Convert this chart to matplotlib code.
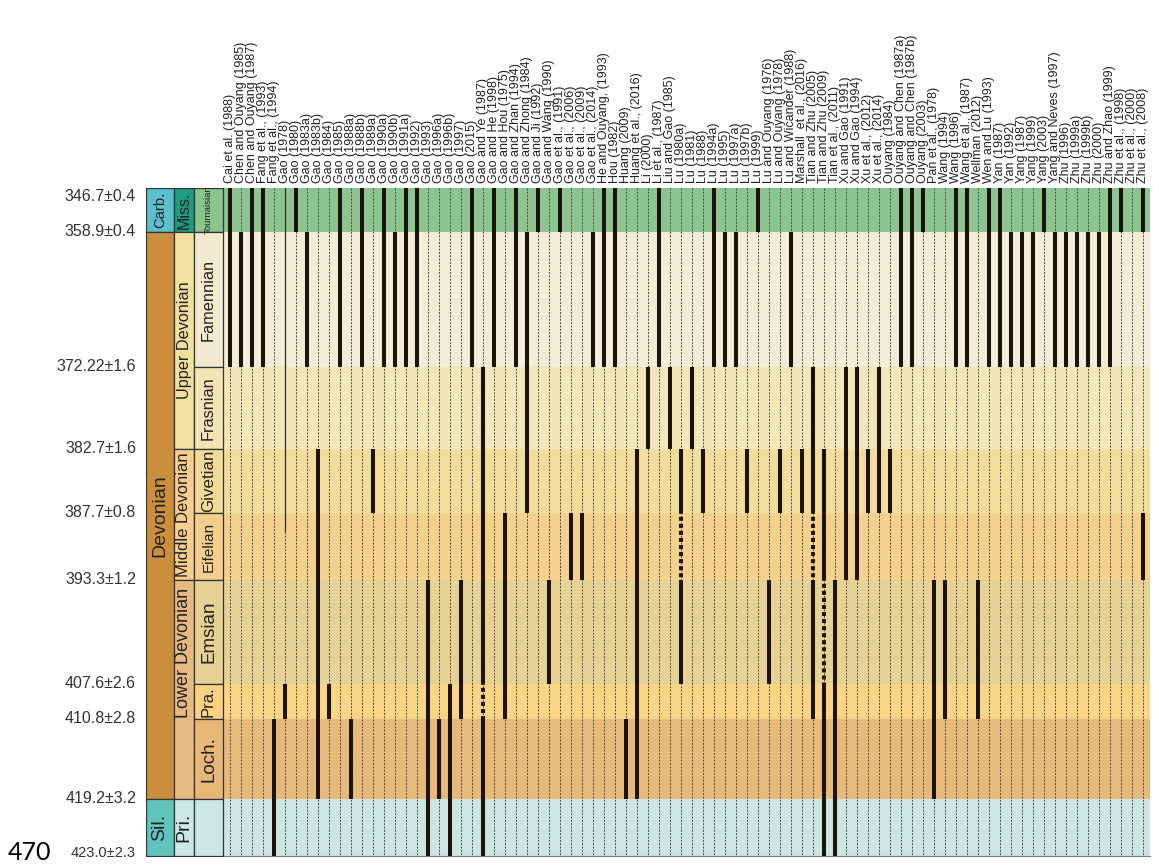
import numpy as np
import matplotlib
matplotlib.use("Agg")
import matplotlib.pyplot as plt

plt.rcParams["font.family"] = ["Liberation Sans", "DejaVu Sans"]

# ──────────────────────────────────────────────────────────
# 데이터
# ──────────────────────────────────────────────────────────

REFS = [
    "Cai et al. (1988)", "Chen and Ouyang (1985)", "Chen and Ouyang (1987)",
    "Fang et al., (1993)", "Fang et al., (1994)", "Gao (1978)", "Gao (1980)",
    "Gao (1983a)", "Gao (1983b)", "Gao (1984)", "Gao (1985)", "Gao (1988a)",
    "Gao (1988b)", "Gao (1989a)", "Gao (1990a)", "Gao (1990b)", "Gao (1991a)",
    "Gao (1992)", "Gao (1993)", "Gao (1996a)", "Gao (1996b)", "Gao (1997)",
    "Gao (2015)", "Gao and Ye (1987)", "Gao and He (1998)", "Gao and Hou (1975)",
    "Gao and Zhan (1994)", "Gao and Zhong (1984)", "Gao and Ji (1992)",
    "Gao and Wang (1990)", "Gao et al., (1991)", "Gao et al., (2006)",
    "Gao et al., (2009)", "Gao et al., (2014)", "He and Ouyang, (1993)",
    "Hou (1982)", "Huang (2009)", "Huang et al., (2016)", "Li (2000)",
    "Li et al., (1987)", "Liu and Gao (1985)", "Lu (1980a)", "Lu (1981)",
    "Lu (1988)", "Lu (1994a)", "Lu (1995)", "Lu (1997a)", "Lu (1997b)",
    "Lu (1999)", "Lu and Ouyang (1976)", "Lu and Ouyang (1978)",
    "Lu and Wicander (1988)", "Marshall  et al., (2016)", "Tian and Zhu (2005)",
    "Tian and Zhu (2009)", "Tian et al., (2011)", "Xu and Gao (1991)",
    "Xu and Gao (1994)", "Xu et al., (2012)", "Xu et al., (2014)",
    "Ouyang (1984)", "Ouyang and Chen (1987a)", "Ouyang and Chen (1987b)",
    "Ouyang (2003)", "Pan et al., (1978)", "Wang (1994)", "Wang (1996)",
    "Wang et al., (1987)", "Wellman (2012)", "Wen and Lu (1993)", "Yan (1987)",
    "Yan (1992)", "Yang (1987)", "Yang (1999)", "Yang (2003)",
    "Yang and Neves (1997)", "Zhu (1996)", "Zhu (1999a)", "Zhu (1999b)",
    "Zhu (2000)", "Zhu and Zhao (1999)", "Zhu et al., (1998)",
    "Zhu et al., (2000)", "Zhu et al., (2008)",
]

# 경계 연대 (Ma), 위 -> 아래
BOUNDARY_AGES = [346.7, 358.9, 372.22, 382.7, 387.7, 393.3, 407.6, 410.8, 419.2, 423.0]
BOUNDARY_LABELS = ["346.7±0.4", "358.9±0.4", "372.22±1.6", "382.7±1.6", "387.7±0.8",
                   "393.3±1.2", "407.6±2.6", "410.8±2.8", "419.2±3.2", "423.0±2.3"]

STAGES = ["Tournaisian", "Famennian", "Frasnian", "Givetian", "Eifelian",
          "Emsian", "Pra.", "Loch.", ""]

EPOCHS = ["Miss.", "Upper Devonian", "Middle Devonian", "Lower Devonian", "Pri."]
EPOCH_TOP = [346.7, 358.9, 382.7, 393.3, 419.2]
EPOCH_BASE = [358.9, 382.7, 393.3, 419.2, 423.0]

PERIODS = ["Carb.", "Devonian", "Sil."]
PERIOD_TOP = [346.7, 358.9, 419.2]
PERIOD_BASE = [358.9, 419.2, 423.0]

# 문헌별 산출 구간 (열 번호, 상한 Ma, 하한 Ma)
SOLID_RANGES = [
    (0, 346.7, 372.22), (1, 358.9, 372.22), (2, 346.7, 372.22), (3, 346.7, 372.22),
    (4, 410.8, 423.0), (5, 407.6, 410.8), (6, 346.7, 358.9), (7, 358.9, 372.22),
    (8, 382.7, 419.2), (9, 407.6, 410.8), (10, 346.7, 372.22), (11, 410.8, 419.2),
    (12, 346.7, 372.22), (13, 382.7, 387.7), (14, 346.7, 372.22), (15, 358.9, 372.22),
    (16, 346.7, 372.22), (17, 346.7, 372.22), (18, 393.3, 423.0), (19, 410.8, 419.2),
    (20, 407.6, 423.0), (21, 393.3, 410.8), (22, 346.7, 372.22),
    (23, 372.22, 407.6), (23, 410.8, 423.0),
    (24, 346.7, 372.22), (25, 387.7, 410.8), (26, 346.7, 372.22), (27, 358.9, 387.7),
    (28, 346.7, 358.9), (29, 393.3, 407.6), (30, 346.7, 358.9), (31, 387.7, 393.3),
    (32, 387.7, 393.3), (33, 358.9, 372.22), (34, 346.7, 372.22), (35, 346.7, 372.22),
    (36, 410.8, 419.2), (37, 382.7, 419.2), (38, 372.22, 382.7), (39, 346.7, 372.22),
    (40, 372.22, 382.7),
    (41, 382.7, 387.7), (41, 393.3, 407.6),
    (42, 372.22, 382.7), (43, 382.7, 387.7), (44, 346.7, 372.22), (45, 358.9, 372.22),
    (46, 358.9, 372.22), (47, 382.7, 387.7), (48, 346.7, 358.9), (49, 393.3, 407.6),
    (50, 382.7, 387.7), (51, 358.9, 372.22), (52, 382.7, 387.7),
    (53, 372.22, 387.7), (53, 393.3, 410.8),
    (54, 382.7, 393.3), (54, 407.6, 423.0),
    (55, 393.3, 423.0), (56, 372.22, 393.3), (57, 372.22, 393.3), (58, 382.7, 387.7),
    (59, 372.22, 387.7), (60, 382.7, 387.7), (61, 346.7, 372.22), (62, 346.7, 372.22),
    (63, 346.7, 358.9), (64, 393.3, 419.2), (65, 393.3, 410.8), (66, 346.7, 372.22),
    (67, 346.7, 372.22), (68, 393.3, 410.8), (69, 346.7, 372.22), (70, 346.7, 372.22),
    (71, 358.9, 372.22), (72, 358.9, 372.22), (73, 358.9, 372.22), (74, 346.7, 358.9),
    (75, 358.9, 372.22), (76, 358.9, 372.22), (77, 358.9, 372.22), (78, 358.9, 372.22),
    (79, 358.9, 372.22), (80, 346.7, 372.22), (81, 346.7, 358.9),
    (83, 346.7, 358.9), (83, 387.7, 393.3),
]

# 불확실 구간 (점선)
DOTTED_RANGES = [
    (23, 407.6, 410.8), (41, 387.7, 393.3), (53, 387.7, 393.3), (54, 393.3, 407.6),
]

# 가는 실선
THIN_RANGES = [(5, 346.7, 389.3)]

# ──────────────────────────────────────────────────────────
# 스타일 / 레이아웃
# ──────────────────────────────────────────────────────────

W, H = 1159, 866
# 각 경계가 그려지는 세로 위치 (px) - 시간축이 선형이 아님
BOUNDARY_ROWS = [188, 232, 367, 449, 513, 580, 684, 719, 799, 856]

STAGE_BG = ["#8dc590", "#f3ecd6", "#f3e6bb", "#f2dd9c", "#f5d18e",
            "#e6d294", "#fbd586", "#e7ba7b", "#cde6e2"]
STAGE_CELL = ["#8cc48e", "#f2eacf", "#f2e4b3", "#f1db95", "#f4ce8a",
              "#e6d192", "#fad281", "#e6b776", "#cde7e3"]
STAGE_SIZE = [6.8, 11.8, 11.7, 12.2, 11.0, 13.5, 12.0, 13.5, 11]
EPOCH_CELL = ["#1f9b80", "#f2e19e", "#f8cd8d", "#e6b980", "#cbe8e2"]
EPOCH_SIZE = [11.5, 11.7, 12.0, 13.0, 14.0]
PERIOD_CELL = ["#5bbfcc", "#ca8e3d", "#60c4bb"]
PERIOD_SIZE = [10.6, 14.0, 14.0]

BAR_COLOR = "#1c140c"
EDGE = "#333333"


def fwd(a):
    return np.interp(a, BOUNDARY_AGES, BOUNDARY_ROWS)


def inv(p):
    return np.interp(p, BOUNDARY_ROWS, BOUNDARY_AGES)


def px_axes(fig, x0, y0, x1, y1):
    return fig.add_axes([x0 / W, 1 - y1 / H, (x1 - x0) / W, (y1 - y0) / H])


def setup_age_axis(ax):
    ax.set_yscale("function", functions=(fwd, inv))
    ax.set_ylim(BOUNDARY_AGES[-1], BOUNDARY_AGES[0])
    ax.set_yticks([])
    ax.yaxis.set_minor_locator(matplotlib.ticker.NullLocator())


fig = plt.figure(figsize=(W / 100, H / 100), dpi=100)

# ── 문헌 격자 ──
ax = px_axes(fig, 223, 188, 1150, 856)
setup_age_axis(ax)
n = len(REFS)
ax.set_xlim(-0.66, n - 1 + 0.61)

for i in range(len(STAGES)):
    ax.axhspan(BOUNDARY_AGES[i], BOUNDARY_AGES[i + 1], color=STAGE_BG[i], lw=0, zorder=0)

ax.vlines(np.arange(n), BOUNDARY_AGES[0], BOUNDARY_AGES[-1], colors="#444444",
          linestyles=[(0, (2.2, 1.5))], lw=0.65, zorder=1)

for col, top, base in THIN_RANGES:
    ax.vlines(col, top, base, colors="#2a2a2a", lw=0.9, zorder=2)

for col, top, base in SOLID_RANGES:
    ax.vlines(col, top, base, colors=BAR_COLOR, lw=2.9, capstyle="butt", zorder=3)

for col, top, base in DOTTED_RANGES:
    ax.vlines(col, top, base, colors=BAR_COLOR, lw=2.9, capstyle="butt",
              linestyles=[(0.8, (1.0, 0.75))], zorder=3)

ax.set_xticks(np.arange(n))
ax.set_xticklabels(REFS, rotation=90, fontsize=9.0, color="#222222")
ax.xaxis.tick_top()
ax.tick_params(axis="x", length=0, pad=3.5)
ax.spines[["top", "right"]].set_visible(False)
ax.spines["bottom"].set_color("#7a7a7a")
ax.spines["bottom"].set_linewidth(0.8)
ax.spines["left"].set_color(EDGE)
ax.spines["left"].set_linewidth(0.9)

# ── 층서 기둥 ──
sax = px_axes(fig, 146, 188, 223, 856)
setup_age_axis(sax)
sax.set_xlim(0, 77)
sax.set_xticks([])
for s in sax.spines.values():
    s.set_visible(False)


def cell(x0, x1, top, base, color, label, size, label_age=None):
    sax.fill_between([x0, x1], top, base, facecolor=color, edgecolor=EDGE,
                     lw=0.9, zorder=1)
    if label:
        mid = label_age if label_age is not None else inv((fwd(top) + fwd(base)) / 2)
        sax.text((x0 + x1) / 2, mid, label, rotation=90, ha="center", va="center",
                 fontsize=size, color="#222222", zorder=2)


for i, name in enumerate(PERIODS):
    cell(0, 28, PERIOD_TOP[i], PERIOD_BASE[i], PERIOD_CELL[i], name, PERIOD_SIZE[i])
for i, name in enumerate(EPOCHS):
    lab_age = inv(653) if name == "Lower Devonian" else None
    cell(28, 48, EPOCH_TOP[i], EPOCH_BASE[i], EPOCH_CELL[i], name, EPOCH_SIZE[i], lab_age)
for i, name in enumerate(STAGES):
    cell(48, 77, BOUNDARY_AGES[i], BOUNDARY_AGES[i + 1], STAGE_CELL[i], name, STAGE_SIZE[i])

# 경계 연대 라벨
for i, (age, lab) in enumerate(zip(BOUNDARY_AGES, BOUNDARY_LABELS)):
    dy = 0
    size = 11.5
    if i == 0:
        dy = -5.8
    elif i == len(BOUNDARY_AGES) - 1:
        dy = 2.2
        size = 10.5
    sax.annotate(lab, xy=(0, age), xycoords=("axes fraction", "data"),
                 xytext=(-7.2, dy), textcoords="offset points",
                 ha="right", va="center", fontsize=size, color="#333333",
                 annotation_clip=False)

fig.text(8 / W, 1 - 852 / H, "470", fontsize=18, ha="left", va="center",
         color="black", family=["Lato", "DejaVu Sans"])

fig.savefig("out.png", dpi=100)
